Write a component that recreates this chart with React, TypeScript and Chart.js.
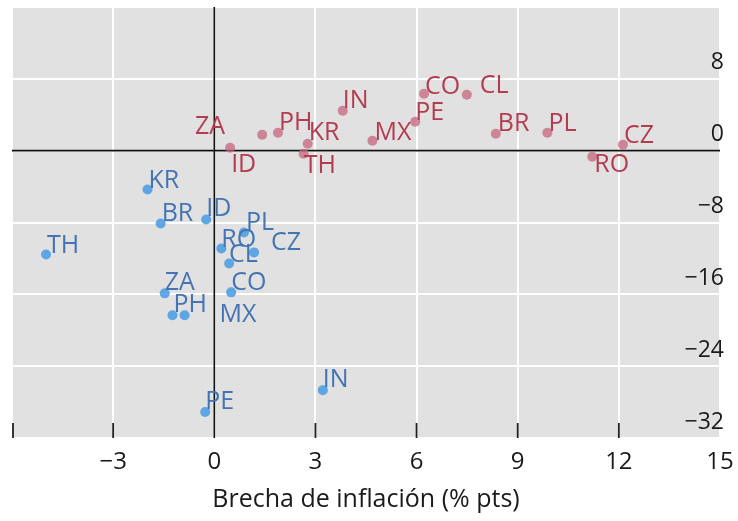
import React, { useEffect, useRef } from 'react';
import { Chart, registerables } from 'chart.js';

Chart.register(...registerables);

// ---------- data ----------
const xTicks = [-6, -3, 0, 3, 6, 9, 12, 15];
const yTicks = [-32, -24, -16, -8, 0, 8, 16];
const xTitle = 'Brecha de inflación (% pts)';

const redCountries = ['ID', 'ZA', 'PH', 'KR', 'TH', 'IN', 'MX', 'PE', 'CO', 'CL', 'BR', 'PL', 'RO', 'CZ'];
const redX = [0.47, 1.42, 1.89, 2.77, 2.65, 3.81, 4.69, 5.96, 6.22, 7.49, 8.35, 9.88, 11.21, 12.12];
const redY = [0.33, 1.78, 2.0, 0.78, -0.33, 4.44, 1.11, 3.22, 6.33, 6.22, 1.89, 2.0, -0.67, 0.67];

const blueCountries = ['KR', 'BR', 'ID', 'TH', 'RO', 'PL', 'CZ', 'CL', 'ZA', 'CO', 'PH', 'MX', 'IN', 'PE'];
const blueX = [-1.98, -1.59, -0.24, -4.99, 0.21, 0.88, 1.18, 0.44, -1.47, 0.5, -1.24, -0.88, 3.22, -0.27];
const blueY = [-4.33, -8.11, -7.67, -11.56, -10.89, -9.11, -11.33, -12.56, -15.89, -15.78, -18.33, -18.33, -26.67, -29.11];

// ---------- label layout (pixel nudges from each point: edge dx, vertical centre dy, alignment) ----------
const redLabelNudge: [number, number, string][] = [
  [1, 17, 'left'], [-37, -8, 'right'], [1, -10, 'left'], [1, -11, 'left'], [0, 12, 'left'],
  [0, -10, 'left'], [2, -8, 'left'], [0, -9, 'left'], [1, -7, 'left'], [13, -9, 'left'],
  [2, -10, 'left'], [1, -9, 'left'], [2, 8, 'left'], [1, -9, 'left'],
];
const blueLabelNudge: [number, number, string][] = [
  [1, -9, 'left'], [1, -10, 'left'], [0, -11, 'left'], [1, -9, 'left'], [0, -9, 'left'],
  [2, -10, 'left'], [17, -10, 'left'], [0, -9, 'left'], [0, -10, 'left'], [0, -9, 'left'],
  [1, -10, 'left'], [35, 0, 'left'], [0, -10, 'left'], [0, -10, 'left'],
];

// ---------- styles ----------
const FONT = '"Open Sans", "Noto Sans", sans-serif';
const RED_DOT = 'rgba(198, 100, 124, 0.75)';
const RED_TEXT = '#b33c50';
const BLUE_DOT = 'rgba(80, 158, 228, 0.9)';
const BLUE_TEXT = '#4574b4';
const PLOT_BG = '#e1e1e1';

const fmt = (v: number) => (v < 0 ? '\u2212' + Math.abs(v) : String(v));

const bgPlugin = {
  id: 'plotBg',
  beforeDraw(chart: any) {
    const { ctx, chartArea: a } = chart;
    ctx.save();
    ctx.fillStyle = PLOT_BG;
    ctx.fillRect(a.left, a.top, a.right - a.left, a.bottom - a.top);
    ctx.restore();
  },
};

const axesPlugin = {
  id: 'zeroAxes',
  beforeDatasetsDraw(chart: any) {
    const { ctx, chartArea: a, scales } = chart;
    const x0 = scales.x.getPixelForValue(0);
    const y0 = scales.y.getPixelForValue(0);
    ctx.save();
    ctx.strokeStyle = '#111';
    ctx.lineWidth = 1.6;
    ctx.beginPath();
    ctx.moveTo(x0, a.top);
    ctx.lineTo(x0, a.bottom);
    ctx.moveTo(a.left, y0);
    ctx.lineTo(a.right, y0);
    ctx.stroke();
    // inner tick marks on bottom edge
    ctx.lineWidth = 1.8;
    ctx.strokeStyle = '#222';
    ctx.beginPath();
    xTicks.forEach((v) => {
      if (v === 0 || v === 15) return;
      const px = Math.max(scales.x.getPixelForValue(v), a.left + 1);
      ctx.moveTo(px, a.bottom);
      ctx.lineTo(px, a.bottom - 15);
    });
    ctx.stroke();
    ctx.restore();
  },
};

const labelPlugin = {
  id: 'pointLabels',
  afterDatasetsDraw(chart: any) {
    const { ctx } = chart;
    ctx.save();
    ctx.font = `25px ${FONT}`;
    ctx.textBaseline = 'middle';
    chart.data.datasets.forEach((ds: any, di: number) => {
      const meta = chart.getDatasetMeta(di);
      const names = di === 0 ? redCountries : blueCountries;
      const nudges = di === 0 ? redLabelNudge : blueLabelNudge;
      ctx.fillStyle = di === 0 ? RED_TEXT : BLUE_TEXT;
      meta.data.forEach((el: any, i: number) => {
        const [dx, dy, align] = nudges[i];
        ctx.textAlign = align;
        ctx.fillText(names[i], el.x + dx, el.y + dy);
      });
    });
    ctx.restore();
  },
};

export default function App() {
  const ref = useRef<HTMLCanvasElement | null>(null);

  useEffect(() => {
    let chart: Chart | null = null;
    let cancelled = false;
    const build = () => {
      if (cancelled || !ref.current) return;
      const gridOpts = {
        color: '#ffffff',
        lineWidth: 2,
        drawTicks: false,
      };
      chart = new Chart(ref.current, {
        type: 'scatter',
        data: {
          datasets: [
            {
              label: 'rojo',
              data: redX.map((x, i) => ({ x, y: redY[i] })),
              backgroundColor: RED_DOT,
              borderWidth: 0,
              pointRadius: 5,
            },
            {
              label: 'azul',
              data: blueX.map((x, i) => ({ x, y: blueY[i] })),
              backgroundColor: BLUE_DOT,
              borderWidth: 0,
              pointRadius: 5,
            },
          ],
        },
        options: {
          animation: false,
          responsive: false,
          layout: { padding: { left: 12, right: 18, top: 7, bottom: 0 } },
          plugins: { legend: { display: false }, tooltip: { enabled: false } },
          scales: {
            x: {
              type: 'linear',
              position: 'bottom',
              min: xTicks[0],
              max: xTicks[xTicks.length - 1],
              afterBuildTicks: (s: any) => {
                s.ticks = xTicks.map((v) => ({ value: v }));
              },
              afterFit: (s: any) => {
                s.height = 83;
                s.paddingLeft = 0;
                s.paddingRight = 0;
              },
              grid: gridOpts,
              border: { display: false },
              ticks: {
                padding: 10,
                color: '#1a1a1a',
                font: { family: FONT, size: 24 },
                callback: (v: any) => (v === xTicks[0] ? '' : fmt(Number(v))),
              },
              title: {
                display: true,
                text: xTitle,
                color: '#1a1a1a',
                font: { family: FONT, size: 25 },
                padding: { top: 0, bottom: 6 },
              },
            },
            y: {
              type: 'linear',
              position: 'right',
              min: yTicks[0],
              max: yTicks[yTicks.length - 1],
              afterBuildTicks: (s: any) => {
                s.ticks = yTicks.map((v) => ({ value: v }));
              },
              afterFit: (s: any) => {
                s.width = 0;
                s.paddingTop = 0;
                s.paddingBottom = 0;
              },
              grid: gridOpts,
              border: { display: false },
              ticks: {
                mirror: true,
                padding: 4,
                labelOffset: -16,
                color: '#1a1a1a',
                font: { family: FONT, size: 23 },
                callback: (v: any) => (v === yTicks[yTicks.length - 1] ? '' : fmt(Number(v))),
              },
            },
          },
        },
        plugins: [bgPlugin, axesPlugin, labelPlugin],
      } as any);
    };
    const fonts: any = (document as any).fonts;
    if (fonts && fonts.load) {
      Promise.all([fonts.load(`23px "Open Sans"`), fonts.load(`25px "Open Sans"`)]).then(build, build);
    } else {
      build();
    }
    return () => {
      cancelled = true;
      if (chart) chart.destroy();
    };
  }, []);

  return (
    <div style={{ position: 'absolute', left: 0, top: 0, width: 738, height: 521, background: '#fff' }}>
      <canvas ref={ref} width={738} height={521} style={{ display: 'block' }} />
    </div>
  );
}
